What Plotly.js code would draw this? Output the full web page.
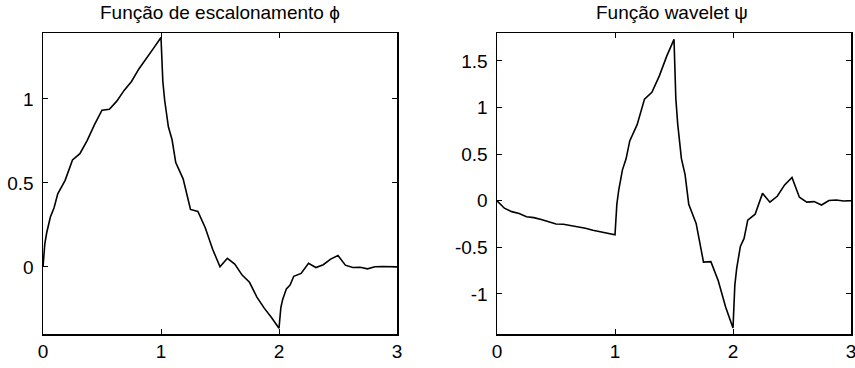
<!DOCTYPE html>
<html>
<head>
<meta charset="utf-8">
<script src="https://cdn.plot.ly/plotly-3.0.1.min.js"></script>
<style>html,body{margin:0;padding:0;background:#fff;}#chart{width:855px;height:368px;}</style>
</head>
<body>
<div id="chart"></div>
<script>
// Scaling function (phi) samples
const phiX = [0,0.0156,0.0313,0.0625,0.0938,0.125,0.1875,0.25,0.3125,0.375,0.4375,0.5,0.5625,0.625,0.6875,0.75,0.8125,0.875,0.9375,1,
  1.0156,1.0313,1.0625,1.0938,1.125,1.1875,1.25,1.3125,1.375,1.4375,1.5,1.5625,1.625,1.6875,1.75,1.8125,1.875,1.9375,2,
  2.0156,2.0313,2.0625,2.0938,2.125,2.1875,2.25,2.3125,2.375,2.4375,2.5,2.5625,2.625,2.6875,2.75,2.8125,2.875,2.9375,3];
const phiY = [0,0.139,0.203,0.297,0.352,0.435,0.515,0.637,0.674,0.754,0.849,0.933,0.939,0.987,1.051,1.104,1.179,1.244,1.303,1.366,
  1.104,0.991,0.834,0.757,0.621,0.524,0.342,0.330,0.233,0.105,0,0.051,0.017,-0.049,-0.092,-0.180,-0.246,-0.303,-0.366,
  -0.243,-0.194,-0.131,-0.108,-0.056,-0.039,0.021,-0.004,0.013,0.046,0.067,0.010,-0.004,-0.002,-0.012,0.001,0.002,0,0];

// Wavelet function (psi) samples
const psiX = [0,0.0625,0.125,0.1875,0.25,0.3125,0.375,0.4375,0.5,0.5625,0.625,0.6875,0.75,0.8125,0.875,0.9375,1,
  1.0156,1.0313,1.0625,1.0938,1.125,1.1875,1.25,1.3125,1.375,1.4375,1.5,
  1.5156,1.5313,1.5625,1.5938,1.625,1.6875,1.75,1.8125,1.875,1.9375,2,
  2.0156,2.0313,2.0625,2.0938,2.125,2.1875,2.25,2.3125,2.375,2.4375,2.5,2.5625,2.625,2.6875,2.75,2.8125,2.875,2.9375,3];
const psiY = [0,-0.080,-0.117,-0.138,-0.171,-0.181,-0.202,-0.228,-0.250,-0.252,-0.265,-0.282,-0.296,-0.316,-0.333,-0.349,-0.366,
  -0.039,0.111,0.329,0.450,0.642,0.816,1.091,1.163,1.337,1.549,1.732,
  1.095,0.825,0.455,0.281,-0.038,-0.243,-0.658,-0.653,-0.858,-1.141,-1.366,
  -0.906,-0.725,-0.490,-0.404,-0.208,-0.144,0.079,-0.016,0.048,0.170,0.250,0.038,-0.015,-0.009,-0.046,0.003,0.008,-0.002,0];

const xTicks = [0,1,2,3];
const phiTicks = [0,0.5,1];
const psiTicks = [-1,-0.5,0,0.5,1,1.5];
const titles = ["Função de escalonamento ϕ", "Função wavelet ψ"];

const W = 855, H = 368;
const font = {family: "Liberation Sans, Arial, sans-serif", size: 19, color: "#000"};
const lineStyle = {color: "#000", width: 1.6};

const axBase = {
  showgrid: false, zeroline: false, showline: true, linecolor: "#000", linewidth: 1.5,
  mirror: "ticks", ticks: "inside", ticklen: 5, tickwidth: 1, tickcolor: "#000",
  tickfont: font, fixedrange: true, ticklabeloverflow: "allow"
};

const traces = [
  {x: phiX, y: phiY, type: "scatter", mode: "lines", line: lineStyle, xaxis: "x", yaxis: "y", hoverinfo: "skip"},
  {x: psiX, y: psiY, type: "scatter", mode: "lines", line: lineStyle, xaxis: "x2", yaxis: "y2", hoverinfo: "skip"}
];

const yDom = [1 - 334 / H, 1 - 33 / H];
const layout = {
  width: W, height: H,
  margin: {l: 0, r: 0, t: 0, b: 0},
  paper_bgcolor: "#fff", plot_bgcolor: "#fff",
  showlegend: false,
  xaxis: Object.assign({}, axBase, {domain: [43 / W, 397 / W], range: [0, 3], tickvals: xTicks, ticktext: xTicks.map(String), anchor: "y"}),
  yaxis: Object.assign({}, axBase, {domain: yDom, range: [-0.40, 1.393], tickvals: phiTicks, ticktext: phiTicks.map(String), anchor: "x", ticklabelstandoff: 4}),
  xaxis2: Object.assign({}, axBase, {domain: [497 / W, 851 / W], range: [0, 3], tickvals: xTicks, ticktext: xTicks.map(String), anchor: "y2"}),
  yaxis2: Object.assign({}, axBase, {domain: yDom, range: [-1.43, 1.80], tickvals: psiTicks, ticktext: psiTicks.map(String), anchor: "x2", ticklabelstandoff: 4}),
  annotations: [
    {text: titles[0], xref: "paper", yref: "paper", x: 220 / W, y: 1 - 12 / H, xanchor: "center", yanchor: "middle", showarrow: false, font: font},
    {text: titles[1], xref: "paper", yref: "paper", x: 672 / W, y: 1 - 12 / H, xanchor: "center", yanchor: "middle", showarrow: false, font: font}
  ]
};

Plotly.newPlot("chart", traces, layout, {staticPlot: true, displayModeBar: false});
</script>
</body>
</html>
